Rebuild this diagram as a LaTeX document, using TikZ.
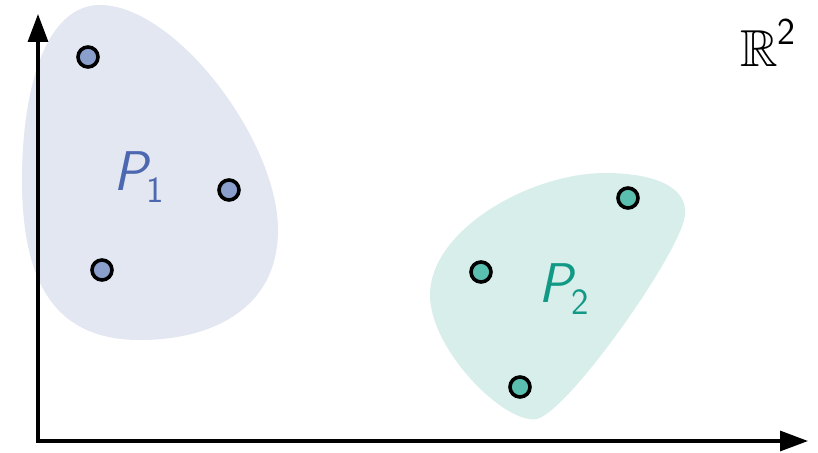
\documentclass[tikz,border=0pt]{standalone}
\usepackage{amssymb}
\usetikzlibrary{arrows.meta}
\definecolor{blobA}{HTML}{E3E7F2}
\definecolor{blobB}{HTML}{D8EEEB}
\definecolor{dotA}{HTML}{8A9FCC}
\definecolor{dotB}{HTML}{5BBFB0}
\definecolor{textA}{HTML}{4C68B0}
\definecolor{textB}{HTML}{109A85}
\begin{document}
\begin{tikzpicture}[x=1pt,y=-1pt,>={Triangle[length=28pt,width=20pt]},
  pt/.style={circle, draw=black, line width=3.6pt, inner sep=0pt, minimum size=20pt},
  lbl/.style={font=\fontsize{56}{58}\selectfont\sffamily}]
\useasboundingbox (0,0) rectangle (818,452);
% sets
\fill[blobA] (100,5) .. controls (175,5) and (278,140) .. (278,230)
  .. controls (278,310) and (210,340) .. (140,340)
  .. controls (60,340) and (22,290) .. (22,180)
  .. controls (22,90) and (45,5) .. (100,5);
\fill[blobB] (605,173) .. controls (650,173) and (688,185) .. (685,215)
  .. controls (682,250) and (570,410) .. (537,419)
  .. controls (505,425) and (430,350) .. (430,295)
  .. controls (430,230) and (530,173) .. (605,173);
% axes
\coordinate (o) at (38,441);
\coordinate (xe) at (808,441);
\coordinate (ye) at (38,14);
\draw[->, line width=3.2pt] ([xshift=-1.6pt]o) -- (xe);
\draw[->, line width=3.2pt] ([yshift=1.6pt]o) -- (ye);
% points
\node[pt, fill=dotA] (a1) at (88,57) {};
\node[pt, fill=dotA] (a2) at (229,190) {};
\node[pt, fill=dotA] (a3) at (102,270) {};
\node[pt, fill=dotB] (b1) at (628,198) {};
\node[pt, fill=dotB] (b2) at (481,272) {};
\node[pt, fill=dotB] (b3) at (520,387) {};
% labels
\node[lbl, text=textA] (p1) at (139,177) {\textit{P}\kern-0.09em\raisebox{-0.2em}{\fontsize{37}{40}\selectfont 1}};
\node[lbl, text=textB] (p2) at (564,289) {\textit{P}\kern-0.09em\raisebox{-0.2em}{\fontsize{37}{40}\selectfont 2}};
\node[font=\fontsize{52}{56}\selectfont] (r2) at (768,43) {$\mathbb{R}$\raisebox{0.42em}{\sffamily\fontsize{38}{40}\selectfont 2}};
\end{tikzpicture}
\end{document}
